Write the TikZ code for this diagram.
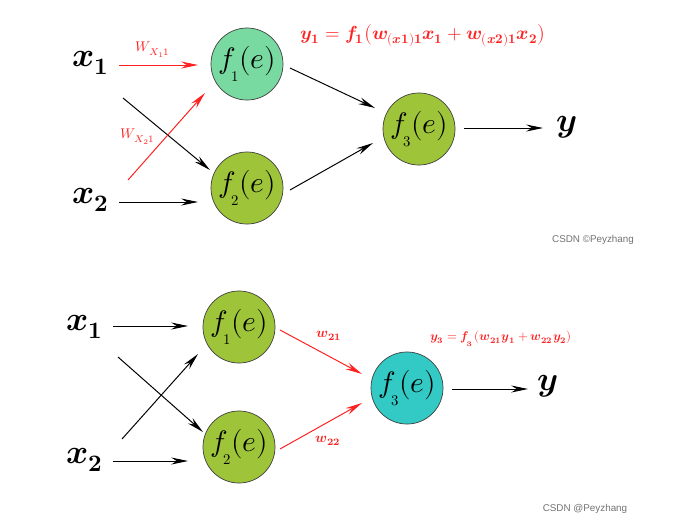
\documentclass[tikz,border=0pt]{standalone}
\usepackage{amsmath}
\usepackage{unicode-math}
\usepackage{xcolor}
\usepackage{tikz}
\usetikzlibrary{arrows.meta,positioning,calc}
\setmathfont{Latin Modern Math}
\newfontfamily\creditfont{Liberation Sans}
\newcommand{\bfi}[1]{\symbfit{#1}}
\newcommand{\bfd}[1]{\symbf{#1}}
\newcommand{\fe}[1]{$f_{\kern-1pt\lower4pt\hbox{$\scriptscriptstyle #1$}}(e)$}
\definecolor{mintgreen}{RGB}{120,218,160}
\definecolor{leafgreen}{RGB}{158,196,58}
\definecolor{turq}{RGB}{51,201,196}
\definecolor{wred}{RGB}{255,32,32}

\begin{document}
\begin{tikzpicture}[x=0.025cm, y=-0.025cm,
    neuron/.style={circle, draw=black!75, line width=0.5pt, minimum size=1.8cm, inner sep=0pt, font=\fontsize{21}{24}\selectfont},
    inp/.style={inner sep=0pt, font=\fontsize{24}{28}\selectfont},
    arr/.style={line width=0.7pt, -{Stealth[length=12pt,width=5pt,inset=4pt]}},
    warr/.style={arr, color=wred},
    wlab/.style={text=wred, inner sep=0pt, font=\fontsize{10}{12}\selectfont},
    credit/.style={text=black!55, inner sep=0pt, font=\creditfont\fontsize{7}{8}\selectfont}
]
    \fill[white] (0,0) rectangle (686,529);
    \useasboundingbox (0,0) rectangle (686,529);

    % Top network
    \node[inp] (x1) at (91,63) {$\bfi{x}_{\bfd{1}}$};
    \node[inp] (x2) at (91,200) {$\bfi{x}_{\bfd{2}}$};
    \node[neuron, fill=mintgreen] (f1) at (247,64) {\fe{1}};
    \node[neuron, fill=leafgreen] (f2) at (247,188) {\fe{2}};
    \node[neuron, fill=leafgreen] (f3) at (419,129) {\fe{3}};
    \node[inp] (y) at (567,127) {$\bfi{y}$};

    \draw[warr] ([shift={(28,2)}]x1.center) -- ([shift={(-49,1)}]f1.center);
    \draw[arr] ([shift={(32,35)}]x1.center) -- ([shift={(-37,-18)}]f2.center);
    \draw[warr] ([shift={(37,-20)}]x2.center) -- ([shift={(-42,29)}]f1.center);
    \draw[arr] ([shift={(28,2)}]x2.center) -- ([shift={(-49,14)}]f2.center);
    \draw[arr] ([shift={(43,4)}]f1.center) -- ([shift={(-44,-21)}]f3.center);
    \draw[arr] ([shift={(43,2)}]f2.center) -- ([shift={(-46,14)}]f3.center);
    \draw[arr] ([shift={(45,-1)}]f3.center) -- ([shift={(-24,1)}]y.center);

    \node[wlab] (w11) at (153,50) {$W_{X_1 1}$};
    \node[wlab] (w21) at (138,137) {$W_{X_2 1}$};
    \node[wlab, font=\fontsize{13.4}{16}\selectfont] (eq1) at (423,35)
        {$\bfi{y}_{\bfd{1}}=\bfi{f}_{\bfd{1}}\bigl(\bfi{w}_{(\bfi{x}\bfd{1})\bfd{1}}\bfi{x}_{\bfd{1}}+\bfi{w}_{(\bfi{x}\bfd{2})\bfd{1}}\bfi{x}_{\bfd{2}}\bigr)$};
    \node[credit] (cr1) at (593,240) {CSDN \textcopyright Peyzhang};

    % Bottom network
    \node[inp] (xb1) at (85,327) {$\bfi{x}_{\bfd{1}}$};
    \node[inp] (xb2) at (85,460) {$\bfi{x}_{\bfd{2}}$};
    \node[neuron, fill=leafgreen] (g1) at (239,327) {\fe{1}};
    \node[neuron, fill=leafgreen] (g2) at (239,447) {\fe{2}};
    \node[neuron, fill=turq] (g3) at (407,388) {\fe{3}};
    \node[inp] (yb) at (548,386) {$\bfi{y}$};

    \draw[arr] ([shift={(28,-1)}]xb1.center) -- ([shift={(-51,-1)}]g1.center);
    \draw[arr] ([shift={(33,30)}]xb1.center) -- ([shift={(-36,-15)}]g2.center);
    \draw[arr] ([shift={(37,-21)}]xb2.center) -- ([shift={(-41,27)}]g1.center);
    \draw[arr] ([shift={(28,1)}]xb2.center) -- ([shift={(-51,14)}]g2.center);
    \draw[warr] ([shift={(41,3)}]g1.center) -- ([shift={(-45,-14)}]g3.center);
    \draw[warr] ([shift={(41,2)}]g2.center) -- ([shift={(-45,15)}]g3.center);
    \draw[arr] ([shift={(45,1)}]g3.center) -- ([shift={(-20,3)}]yb.center);

    \node[wlab] (v21) at (329,336) {$\bfi{w}_{\bfd{21}}$};
    \node[wlab] (v22) at (328,441) {$\bfi{w}_{\bfd{22}}$};
    \node[wlab, font=\fontsize{9}{11}\selectfont] (eq3) at (501,339)
        {$\bfi{y}_{\bfd{3}}=\bfi{f}_{\kern-1pt\lower2pt\hbox{$\scriptscriptstyle\bfd{3}$}}\,(\bfi{w}_{\bfd{21}}\bfi{y}_{\bfd{1}}+\bfi{w}_{\bfd{22}}\bfi{y}_{\bfd{2}})$};
    \node[credit] (cr2) at (585,509) {CSDN @Peyzhang};
\end{tikzpicture}
\end{document}
